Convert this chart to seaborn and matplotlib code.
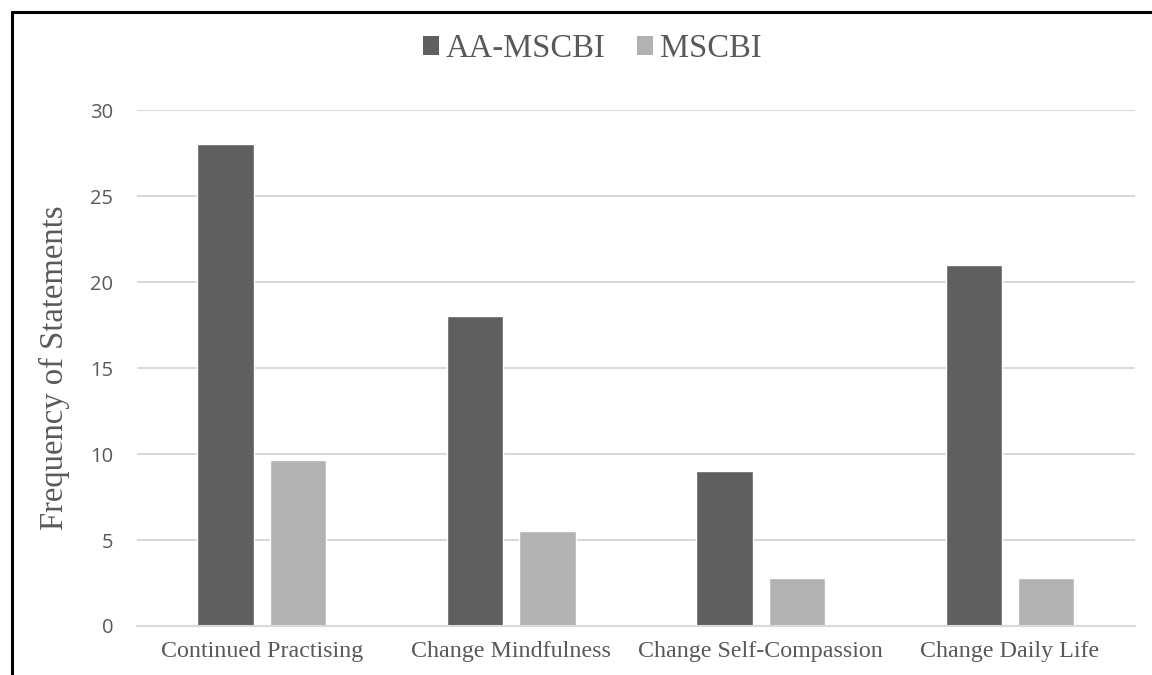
import matplotlib
matplotlib.use("Agg")
import matplotlib.pyplot as plt
import seaborn as sns
import pandas as pd
from matplotlib.lines import Line2D
from matplotlib.patches import Patch

categories = ["Continued Practising", "Change Mindfulness", "Change Self-Compassion", "Change Daily Life"]
series_names = ["AA-MSCBI", "MSCBI"]
aa_mscbi = [28, 18, 9, 21]
mscbi = [9.65, 5.5, 2.8, 2.8]
y_ticks = [0, 5, 10, 15, 20, 25, 30]

df = pd.DataFrame({
    "category": categories * 2,
    "group": [series_names[0]] * 4 + [series_names[1]] * 4,
    "value": aa_mscbi + mscbi,
})

sns.set_theme(style="white")
fig = plt.figure(figsize=(11.52, 6.75), dpi=100)
ax = fig.add_axes([0.119, 0.0726, 0.866, 0.7644])

palette = {"AA-MSCBI": "#5f5f5f", "MSCBI": "#b2b2b2"}
sns.barplot(data=df, x="category", y="value", hue="group", palette=palette,
            width=0.58, gap=0.22, ax=ax, legend=False, saturation=1)

ax.set_ylim(0, 30)
ax.set_xlim(-0.5, 3.5)
ax.set_yticks(y_ticks)
ax.yaxis.grid(True, color="#d9d9d9", linewidth=1.5)
ax.set_axisbelow(True)
for s in ["top", "right", "left"]:
    ax.spines[s].set_visible(False)
ax.spines["bottom"].set_color("#d9d9d9")
ax.spines["bottom"].set_linewidth(1.5)
ax.tick_params(axis="both", length=0)
ax.tick_params(axis="y", pad=17, labelsize=14.5, labelcolor="#595959")
for t in ax.get_yticklabels():
    t.set_fontfamily("Open Sans")
ax.tick_params(axis="x", pad=11, labelsize=17.3, labelcolor="#595959")
for t in ax.get_xticklabels():
    t.set_fontfamily("Liberation Serif")
ax.set_xlabel("")
ax.set_ylabel("Frequency of Statements", fontfamily="Liberation Serif", fontsize=23.5,
              color="#595959", labelpad=15)

handles = [Patch(facecolor=palette[n], edgecolor="none") for n in series_names]
leg = fig.legend(handles, series_names, loc="center", bbox_to_anchor=(0.514, 0.928),
                 ncol=2, frameon=False, handlelength=0.5, handleheight=0.5,
                 handletextpad=0.2, columnspacing=0.95,
                 prop={"family": "Liberation Serif", "size": 23.5})
for t in leg.get_texts():
    t.set_color("#595959")

# frame lines (left and top of the cropped border)
fig.add_artist(Line2D([12/1152, 12/1152], [0, 1 - 12/675], transform=fig.transFigure,
                      color="black", linewidth=2.2))
fig.add_artist(Line2D([12/1152, 1], [1 - 12/675, 1 - 12/675], transform=fig.transFigure,
                      color="black", linewidth=2.2))

fig.savefig("out.png", dpi=100)
